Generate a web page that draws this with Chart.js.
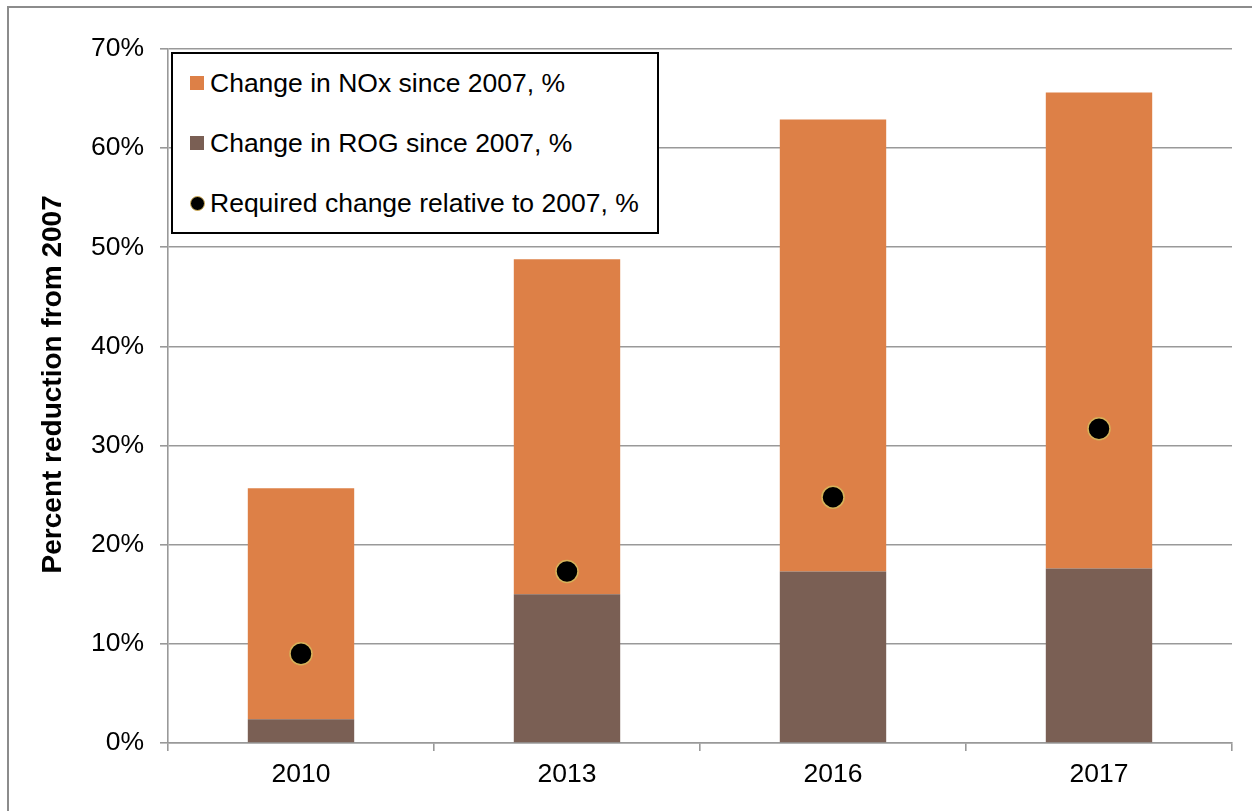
<!DOCTYPE html>
<html lang="en">
<head>
    <meta charset="UTF-8">
    <title>Percent reduction from 2007</title>
    <script src="https://cdn.jsdelivr.net/npm/chart.js"></script>
    <style>
        * {
            margin: 0;
            padding: 0;
        }
        body {
            background: #fff;
            overflow: hidden;
            font-family: 'Liberation Sans', Arial, sans-serif;
        }
        .chartBox {
            position: relative;
            width: 1252px;
            height: 811px;
        }
        /* legend box sits inside the plot, top left */
        .legendBox {
            position: absolute;
            left: 171px;
            top: 52px;
            width: 488px;
            height: 182px;
            box-sizing: border-box;
            border: 2px solid #000;
            background: #fff;
        }
        .legendRow {
            position: absolute;
            left: 16px;
            height: 30px;
            display: flex;
            align-items: center;
            font-size: 26.5px;
            color: #000;
            white-space: nowrap;
        }
        .legendRow .icon {
            width: 16px;
            height: 16px;
            display: flex;
            align-items: center;
            justify-content: center;
            margin-right: 5px;
        }
        .legendRow .sq {
            width: 14px;
            height: 14px;
        }
        .legendRow .dot {
            width: 13px;
            height: 13px;
            border-radius: 50%;
            background: #000;
            border: 1.5px solid #d6b25a;
        }
    </style>
</head>
<body>
<div class="chartBox">
    <canvas id="myChart" width="1252" height="811"></canvas>
    <div class="legendBox" id="legendBox"></div>
</div>

<script>
    // data
    const years = ['2010', '2013', '2016', '2017'];
    const rogChange = [2.4, 15.0, 17.3, 17.6];
    const noxChange = [23.3, 33.8, 45.6, 48.0];
    const requiredChange = [9.0, 17.3, 24.8, 31.7];
    const yTickLabels = ['0%', '10%', '20%', '30%', '40%', '50%', '60%', '70%'];

    const orange = '#dd8047';
    const brown = '#7a5f54';
    const gridGray = '#999999';

    Chart.defaults.font.family = "'Liberation Sans', Arial, sans-serif";
    Chart.defaults.font.size = 26.5;
    Chart.defaults.color = '#000';

    // gray frame round the whole picture
    const frame = {
        id: 'frame',
        beforeDraw(chart) {
            const ctx = chart.ctx;
            ctx.save();
            ctx.strokeStyle = '#8c8c8c';
            ctx.lineWidth = 2;
            ctx.strokeRect(8, 7, 1400, 1000);
            ctx.restore();
        }
    };

    const data = {
        labels: years,
        datasets: [
            {
                type: 'bar',
                label: 'Change in ROG since 2007, %',
                data: rogChange,
                backgroundColor: brown,
                stack: 'bars',
                order: 1
            },
            {
                type: 'bar',
                label: 'Change in NOx since 2007, %',
                data: noxChange,
                backgroundColor: orange,
                stack: 'bars',
                order: 1
            },
            {
                type: 'line',
                label: 'Required change relative to 2007, %',
                data: requiredChange,
                showLine: false,
                pointRadius: 11,
                pointHoverRadius: 11,
                pointBackgroundColor: '#000',
                pointBorderColor: '#d6b25a',
                pointBorderWidth: 1.5,
                stack: 'req',
                order: 0
            }
        ]
    };

    const config = {
        data,
        options: {
            responsive: false,
            animation: false,
            layout: {
                padding: { left: 32, top: 49, right: 20, bottom: 0 }
            },
            plugins: {
                legend: { display: false },
                tooltip: { enabled: false }
            },
            datasets: {
                bar: {
                    categoryPercentage: 1.0,
                    barPercentage: 0.4
                }
            },
            scales: {
                x: {
                    stacked: true,
                    offset: true,
                    grid: {
                        offset: true,
                        drawOnChartArea: false,
                        drawTicks: true,
                        tickLength: 8,
                        color: gridGray,
                        lineWidth: 1.6
                    },
                    border: { display: true, color: gridGray, width: 1.6 },
                    ticks: { padding: 8, maxRotation: 0 },
                    afterFit(scale) { scale.height = 68; }
                },
                y: {
                    stacked: true,
                    min: 0,
                    max: 70,
                    ticks: {
                        stepSize: 10,
                        padding: 16,
                        callback: (v, i) => yTickLabels[i]
                    },
                    grid: {
                        color: gridGray,
                        lineWidth: 1.6,
                        tickLength: 8
                    },
                    border: { display: true, color: gridGray, width: 1.6 },
                    title: {
                        display: true,
                        // leading spaces nudge the rotated title a bit upward, as in the original
                        text: '   Percent reduction from 2007',
                        font: { weight: 'bold', size: 28 },
                        color: '#000',
                        padding: { top: 4, bottom: 4 }
                    },
                    afterFit(scale) { scale.width = 136; }
                }
            }
        },
        plugins: [frame]
    };

    const myChart = new Chart(document.getElementById('myChart'), config);

    // legend, in the order the picture lists it
    const legendOrder = [1, 0, 2];
    const rowTops = [14, 74, 134];
    const legendBox = document.getElementById('legendBox');
    legendOrder.forEach((di, k) => {
        const ds = data.datasets[di];
        const row = document.createElement('div');
        row.className = 'legendRow';
        row.style.top = rowTops[k] + 'px';
        const icon = document.createElement('span');
        icon.className = 'icon';
        const mark = document.createElement('span');
        if (ds.type === 'line') {
            mark.className = 'dot';
        } else {
            mark.className = 'sq';
            mark.style.background = ds.backgroundColor;
        }
        icon.appendChild(mark);
        const txt = document.createElement('span');
        txt.textContent = ds.label;
        row.appendChild(icon);
        row.appendChild(txt);
        legendBox.appendChild(row);
    });
</script>
</body>
</html>
